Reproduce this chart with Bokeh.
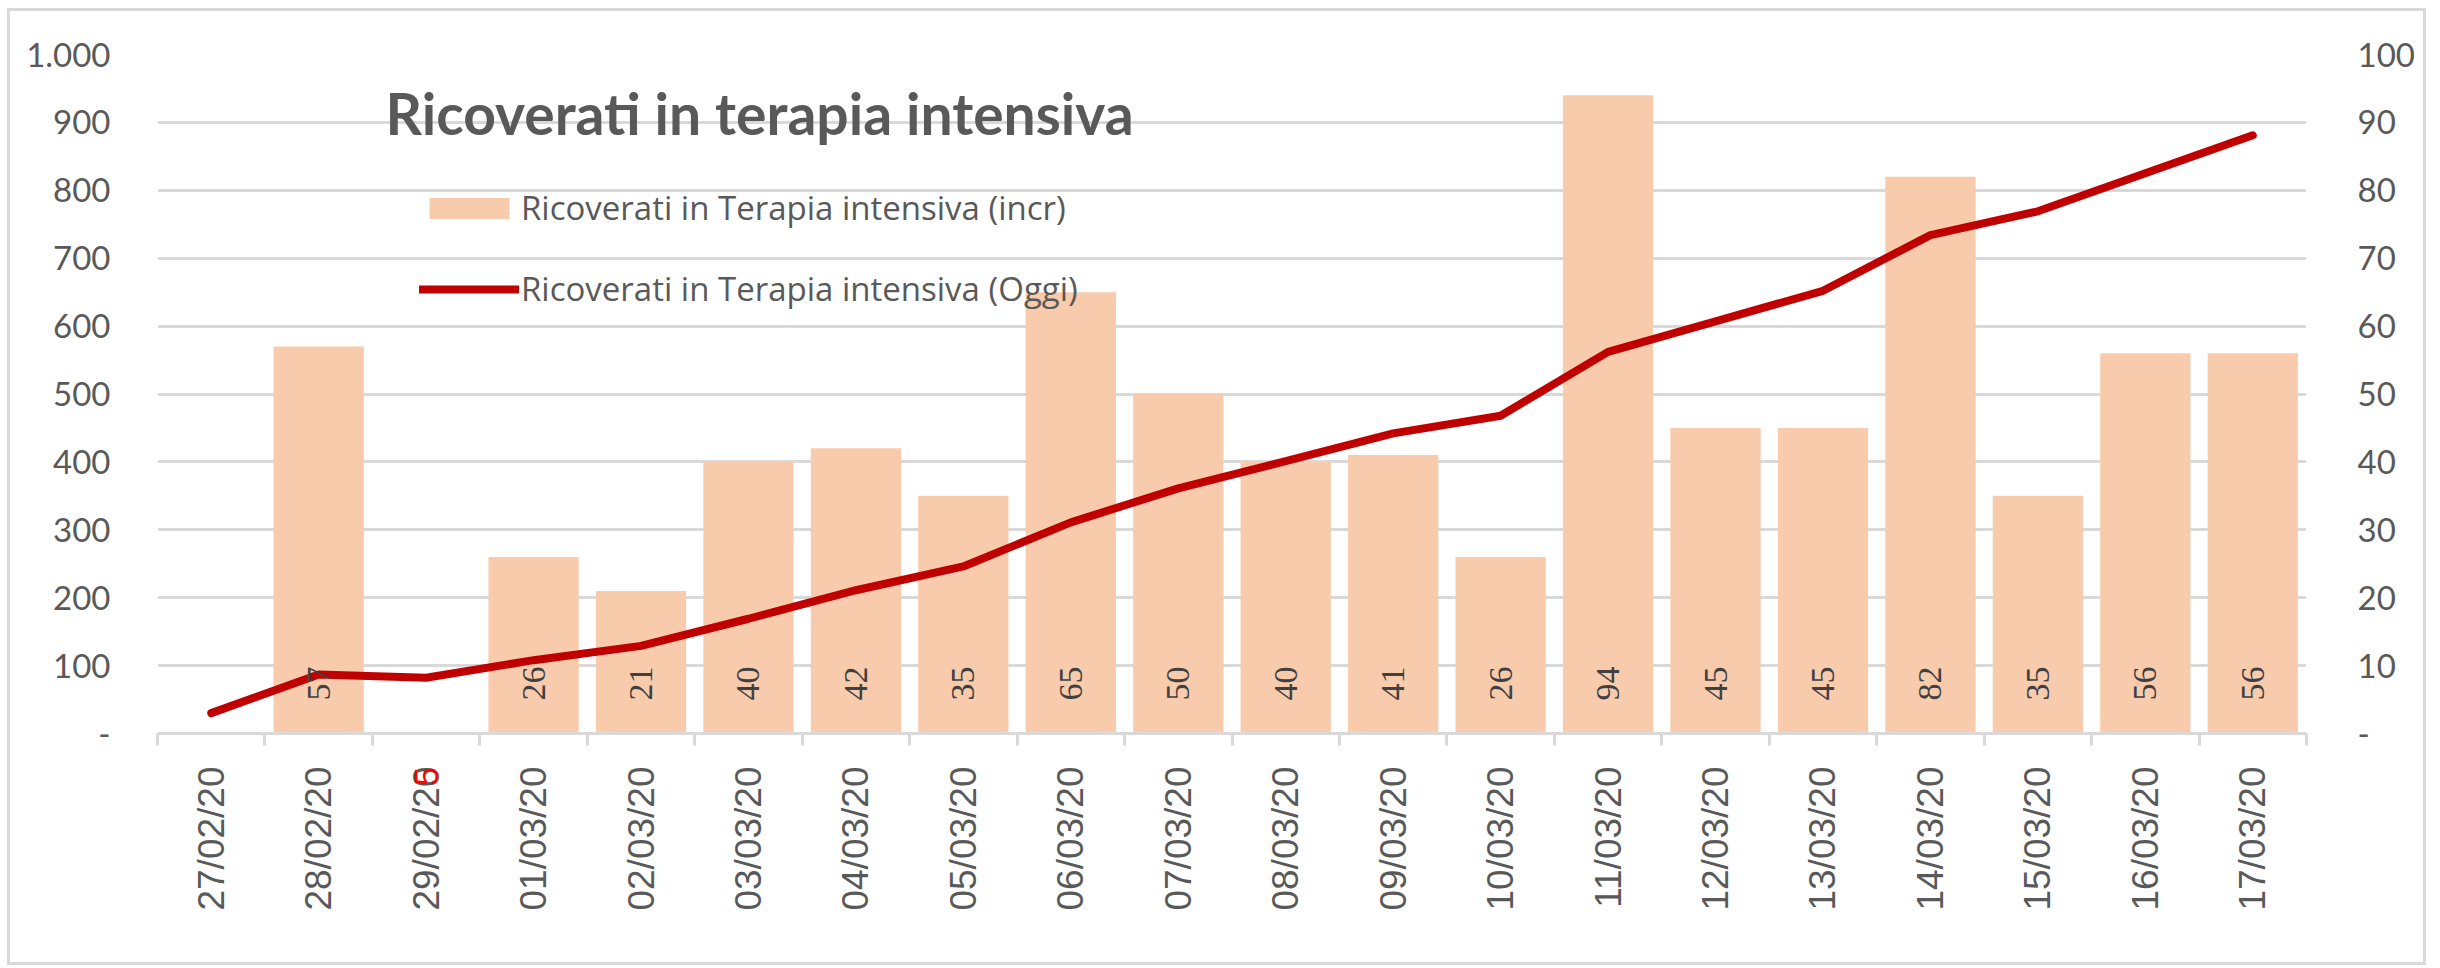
import math
import numpy as np
from bokeh.plotting import figure
from bokeh.models import (Range1d, LinearAxis, FixedTicker, ColumnDataSource, LabelSet,
                          Label, Legend, LegendItem)
from bokeh.embed import file_html
from bokeh.resources import INLINE

# ---- data ----
dates = ["27/02/20", "28/02/20", "29/02/20", "01/03/20", "02/03/20", "03/03/20", "04/03/20",
         "05/03/20", "06/03/20", "07/03/20", "08/03/20", "09/03/20", "10/03/20", "11/03/20",
         "12/03/20", "13/03/20", "14/03/20", "15/03/20", "16/03/20", "17/03/20"]
incr = [np.nan, 57, -5, 26, 21, 40, 42, 35, 65, 50, 40, 41, 26, 94, 45, 45, 82, 35, 56, 56]
oggi = [30, 87, 82, 108, 129, 169, 211, 246, 311, 361, 401, 442, 468, 562, 607, 652, 734, 769, 825, 881]
left_ticks = [0, 100, 200, 300, 400, 500, 600, 700, 800, 900, 1000]
left_labels = {0: "-", 1000: "1.000"}
right_ticks = [0, 10, 20, 30, 40, 50, 60, 70, 80, 90, 100]
right_labels = {0: "-"}
title_text = "Ricoverati in terapia intensiva"
legend_bar = "Ricoverati in Terapia intensiva (incr)"
legend_line = "Ricoverati in Terapia intensiva (Oggi)"

TXT = "#595959"
GRID = "#d9d9d9"

idx = list(range(len(dates)))

p = figure(frame_width=2149, frame_height=679,
           x_range=Range1d(-0.5, len(dates) - 0.5), y_range=Range1d(0, 1000),
           output_backend="svg", toolbar_location=None,
           min_border_left=147, min_border_right=117, min_border_top=43, min_border_bottom=229,
           background_fill_color="white", border_fill_color="white")
p.outline_line_color = None
p.styles = {"border": "3px solid #d9d9d9", "margin-left": "7px", "margin-top": "8px"}
p.extra_y_ranges = {"right": Range1d(0, 100)}

# bottom axis
xa = p.xaxis[0]
xa.ticker = FixedTicker(ticks=idx, minor_ticks=[i - 0.5 for i in range(len(dates) + 1)])
xa.major_label_overrides = {i: d for i, d in enumerate(dates)}
xa.major_label_orientation = math.pi / 2
xa.major_label_text_font = "Liberation Sans"
xa.major_label_text_font_size = "37px"
xa.major_label_text_color = TXT
xa.major_tick_line_color = None
xa.major_tick_in = 0
xa.major_tick_out = 0
xa.minor_tick_line_color = GRID
xa.minor_tick_line_width = 3
xa.minor_tick_in = 0
xa.minor_tick_out = 12
xa.axis_line_color = GRID
xa.axis_line_width = 3
xa.major_label_standoff = 21

# left axis
ya = p.yaxis[0]
ya.ticker = FixedTicker(ticks=left_ticks)
ya.major_label_overrides = left_labels
ya.axis_line_color = None
ya.major_tick_line_color = None
ya.major_tick_in = 0
ya.major_tick_out = 0
ya.minor_tick_line_color = None
ya.major_label_text_font = "Lato"
ya.major_label_text_font_size = "33px"
ya.major_label_text_color = TXT
ya.major_label_standoff = 47

# right axis
ra = LinearAxis(y_range_name="right", ticker=FixedTicker(ticks=right_ticks))
ra.major_label_overrides = right_labels
ra.axis_line_color = None
ra.major_tick_line_color = None
ra.major_tick_in = 0
ra.major_tick_out = 0
ra.minor_tick_line_color = None
ra.major_label_text_font = "Lato"
ra.major_label_text_font_size = "33px"
ra.major_label_text_color = TXT
ra.major_label_standoff = 51
p.add_layout(ra, "right")

p.xgrid.grid_line_color = None
p.ygrid.ticker = FixedTicker(ticks=left_ticks)
p.ygrid.grid_line_color = GRID
p.ygrid.grid_line_width = 3

# bars
bars = p.vbar(x=idx, top=incr, width=0.84, y_range_name="right",
              fill_color="#f8cbad", line_color=None)
# line
line = p.line(x=idx, y=oggi, line_color="#c00000", line_width=8, line_cap="round")

# bar labels (inside base)
pos_x = [i for i, v in zip(idx, incr) if not np.isnan(v) and v > 0]
pos_t = [str(int(v)) for v in incr if not np.isnan(v) and v > 0]
src = ColumnDataSource(dict(x=pos_x, y=[0] * len(pos_x), t=pos_t))
p.add_layout(LabelSet(x="x", y="y", text="t", source=src, y_range_name="right",
                      angle=math.pi / 2, text_align="left", text_baseline="middle",
                      y_offset=33, text_font="Liberation Sans", text_font_size="34px",
                      text_color="#404040"))
# negative value label (red, below the axis) -> placed in a side panel so it is not clipped
for i, v in zip(idx, incr):
    if not np.isnan(v) and v < 0:
        p.add_layout(Label(x=i, y=0, y_range_name="right", text=str(int(abs(v))),
                           angle=math.pi / 2, text_align="center", text_baseline="middle",
                           y_offset=-43, text_font="Liberation Sans", text_font_size="34px",
                           text_color="#ff0000"), "below")

# title inside the plot
p.add_layout(Label(x=228, y=621, x_units="screen", y_units="screen", text=title_text,
                   text_font="Lato", text_font_style="bold", text_font_size="57px",
                   text_color=TXT, text_baseline="middle"))

legend = Legend(items=[LegendItem(label=legend_bar, renderers=[bars]),
                       LegendItem(label=legend_line, renderers=[line])],
                location=(262, 422), orientation="vertical")
legend.glyph_width = 100
legend.glyph_height = 26
legend.label_height = 40
legend.spacing = 36
legend.padding = 0
legend.margin = 0
legend.label_standoff = 2
legend.border_line_color = None
legend.background_fill_alpha = 0
legend.label_text_font = "Open Sans"
legend.label_text_font_size = "33px"
legend.label_text_color = TXT
p.add_layout(legend)

open("out.html", "w").write(file_html(p, INLINE))
